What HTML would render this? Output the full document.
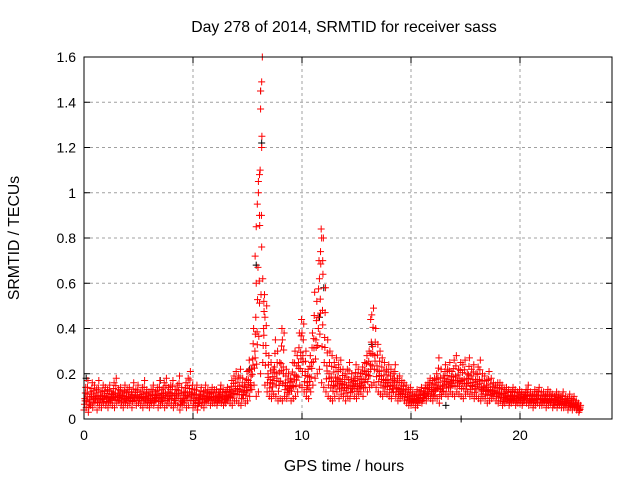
<!DOCTYPE html>
<html><head><meta charset="utf-8"><style>
body{margin:0;background:#fff}
svg{display:block;font-family:"Liberation Sans",sans-serif}
</style></head><body>
<svg id="chart" width="640" height="480" viewBox="0 0 640 480">
<rect width="640" height="480" fill="#fff"/>
<text x="344" y="32" font-size="15.8" text-anchor="middle">Day 278 of 2014, SRMTID for receiver sass</text>
<text transform="translate(19,238) rotate(-90)" font-size="15.8" text-anchor="middle">SRMTID / TECUs</text>
<text x="344" y="471" font-size="15.8" text-anchor="middle">GPS time / hours</text>
<g id="grid"></g>
<g id="ticks"></g>
<g id="black"></g>
<g id="red"></g>
<rect x="84" y="57" width="528" height="362" fill="none" stroke="#000" stroke-width="1"/>
</svg>
<script>
const xTicks=[0,5,10,15,20];
const yTicks=[0,0.2,0.4,0.6,0.8,1,1.2,1.4,1.6];
const yTickLabels=["0","0.2","0.4","0.6","0.8","1","1.2","1.4","1.6"];
const redLo=[.04,.05,.03,.06,.05,.07,.04,.06,.05,.07,
.06,.05,.07,.06,.05,.07,.08,.06,.05,.07,
.06,.07,.05,.08,.06,.07,.06,.05,.07,.06,
.05,.07,.06,.08,.05,.06,.07,.05,.06,.07,
.06,.05,.07,.06,.04,.06,.07,.05,.06,.08,
.05,.06,.04,.07,.06,.05,.07,.08,.06,.07,
.07,.06,.08,.07,.06,.07,.08,.07,.06,.08,
.08,.07,.06,.09,.07,.08,.10,.13,.15,.10,
.12,.20,.25,.15,.12,.10,.09,.11,.10,.08,
.09,.08,.10,.09,.11,.08,.09,.10,.12,.15,
.14,.12,.10,.09,.12,.15,.18,.20,.22,.16,
.14,.12,.10,.09,.08,.10,.12,.09,.11,.10,
.08,.10,.09,.12,.10,.09,.11,.12,.10,.14,
.12,.14,.15,.16,.14,.12,.11,.10,.12,.11,
.10,.09,.12,.10,.08,.09,.10,.08,.07,.06,
.06,.07,.05,.06,.08,.07,.09,.08,.10,.09,
.08,.10,.09,.07,.10,.12,.11,.10,.12,.11,
.10,.12,.11,.10,.09,.11,.12,.10,.11,.09,
.10,.09,.08,.10,.09,.07,.08,.09,.10,.08,
.07,.08,.06,.07,.08,.06,.07,.08,.06,.07,
.07,.06,.08,.07,.06,.07,.05,.06,.07,.06,
.06,.07,.05,.06,.07,.05,.06,.05,.06,.05,
.05,.06,.04,.05,.04,.05,.04,.03];
const redHi=[.14,.17,.12,.16,.15,.13,.17,.12,.15,.14,
.13,.15,.12,.16,.18,.13,.14,.12,.15,.13,
.14,.12,.16,.13,.15,.12,.14,.17,.13,.12,
.13,.15,.12,.14,.17,.13,.16,.18,.14,.15,
.17,.13,.15,.19,.14,.12,.16,.18,.21,.15,
.13,.15,.11,.14,.12,.15,.13,.12,.14,.13,
.13,.12,.15,.13,.12,.14,.13,.17,.19,.21,
.19,.22,.18,.16,.21,.26,.22,.40,.45,.67,
1.10,1.60,.55,.50,.28,.25,.22,.35,.30,.25,
.40,.38,.22,.20,.18,.25,.30,.28,.38,.44,
.42,.30,.22,.28,.38,.56,.52,.70,.84,.80,
.58,.35,.30,.28,.25,.27,.24,.26,.22,.20,
.22,.25,.20,.18,.24,.22,.20,.23,.25,.28,
.30,.34,.49,.40,.33,.30,.27,.25,.22,.24,
.22,.20,.24,.18,.19,.17,.16,.15,.13,.14,
.12,.11,.13,.12,.14,.12,.15,.16,.18,.17,
.18,.20,.27,.22,.19,.24,.22,.25,.21,.26,
.28,.22,.25,.24,.26,.20,.27,.22,.24,.20,
.23,.26,.20,.19,.17,.21,.18,.16,.15,.16,
.16,.15,.13,.14,.13,.12,.14,.13,.12,.13,
.12,.11,.13,.15,.12,.11,.13,.12,.14,.12,
.12,.11,.13,.12,.11,.10,.12,.11,.10,.12,
.10,.09,.11,.09,.10,.08,.07,.06];
const peakTimes=[7.9,7.95,8.0,8.0,8.05,8.05,8.1,8.1,8.15,8.15,8.2,7.85,7.9,8.25,8.3,10.8,10.85,10.9,10.95,13.15,13.2,9.1,10.0];
const peakValues=[0.85,0.95,1.05,1.0,1.08,0.9,1.45,1.37,1.49,1.2,0.62,0.72,0.6,0.52,0.45,0.62,0.74,0.8,0.7,0.44,0.46,0.35,0.38];
const blackTimes=[8.1,8.15,7.9,10.8,11.0,13.2,16.6,17.3,0.1,3.5,7.6];
const blackValues=[1.45,1.22,0.68,0.45,0.58,0.33,0.06,0.0,0.18,0.17,0.22];
const binStart=0, binStep=0.1;
const xMin=0,xMax=24.22,yMin=0,yMax=1.6;
const L=84,R=612,T=57,B=419;
const X=v=>L+(v-xMin)/(xMax-xMin)*(R-L);
const Y=v=>B-(v-yMin)/(yMax-yMin)*(B-T);
const NS="http://www.w3.org/2000/svg";
function mk(tag,attrs,parent){const e=document.createElementNS(NS,tag);for(const k in attrs)e.setAttribute(k,attrs[k]);parent.appendChild(e);return e;}
const grid=document.getElementById('grid'),ticks=document.getElementById('ticks');
xTicks.forEach(t=>{
  const x=X(t);
  if(t>xMin){const g=mk('line',{x1:x,x2:x,y1:T,y2:B,stroke:'#a0a0a0','stroke-dasharray':'3,3'},grid);
  
  }
  mk('line',{x1:x,x2:x,y1:B,y2:B-6,stroke:'#000'},ticks);
  mk('line',{x1:x,x2:x,y1:T,y2:T+6,stroke:'#000'},ticks);
  const tx=mk('text',{x:x,y:B+21,'font-size':'14','text-anchor':'middle'},ticks);
  tx.textContent=String(t);
  
  
});
yTicks.forEach((t,i)=>{
  const y=Y(t);
  if(t>yMin&&t<yMax){const g=mk('line',{x1:L,x2:R,y1:y,y2:y,stroke:'#a0a0a0','stroke-dasharray':'3,3'},grid);
  
  }
  mk('line',{x1:L,x2:L+6,y1:y,y2:y,stroke:'#000'},ticks);
  mk('line',{x1:R,x2:R-6,y1:y,y2:y,stroke:'#000'},ticks);
  const tx=mk('text',{x:L-8,y:y+5,'font-size':'14','text-anchor':'end'},ticks);
  tx.textContent=yTickLabels[i];
  
  
});
function plus(g,t,v,c){
  const x=X(t),y=Y(v);
  const p=mk('path',{d:`M${x-3.5},${y}h7M${x},${y-3.5}v7`,stroke:c,'stroke-width':'1',fill:'none'},g);
  
  
}
const gb=document.getElementById('black'),gr=document.getElementById('red');
blackTimes.forEach((t,i)=>plus(gb,t,blackValues[i],'#000'));
redLo.forEach((lo,i)=>{
  const hi=redHi[i],t=binStart+i*binStep;
  [0,0.25,0.5,0.75,1].forEach((k,j)=>plus(gr,t+j*0.02,lo+(hi-lo)*k,'#f00'));
  plus(gr,t+0.05,lo+(hi-lo)*0.4,'#f00');
});
peakTimes.forEach((t,i)=>plus(gr,t,peakValues[i],'#f00'));
</script>
</body></html>
